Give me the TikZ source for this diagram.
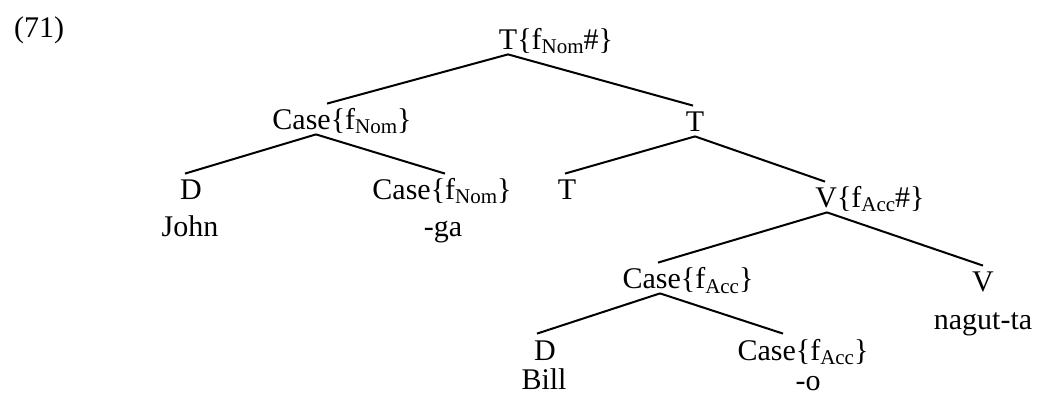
\documentclass[tikz,border=0pt]{standalone}
\usepackage{fontspec}
\setmainfont{Liberation Serif}
\usepackage{tikz}
\newcommand{\feat}[1]{f\raisebox{-2pt}{\fontsize{10.5}{12}\selectfont #1}}

\begin{document}
\begin{tikzpicture}[x=0.5pt, y=-0.5pt, font=\fontsize{15}{18}\selectfont,
  lab/.style={anchor=base, inner sep=2pt, text height=11pt, text depth=0pt},
  branch/.style={line width=1pt}]
  \useasboundingbox (0,0) rectangle (1037,400);

  % Example number
  \node[lab] (num) at (39,38) {(71)};

  % Labels, top to bottom
  \node[lab] (Troot) at (556,50) {T\{\feat{Nom}\#\}};
  \node[lab] (CaseN) at (342,130) {Case\{\feat{Nom}\}};
  \node[lab] (Tbar) at (695,132) {T};
  \node[lab] (Djohn) at (191,200) {D};
  \node[lab] (john) at (190,237) {John};
  \node[lab] (CaseNh) at (442,200) {Case\{\feat{Nom}\}};
  \node[lab] (ga) at (443,237) {-ga};
  \node[lab] (Thead) at (567,200) {T};
  \node[lab] (Vbar) at (870,208) {V\{\feat{Acc}\#\}};
  \node[lab] (CaseA) at (688,289) {Case\{\feat{Acc}\}};
  \node[lab] (Vhead) at (983,292) {V};
  \node[lab] (nagut) at (983,329) {nagut-ta};
  \node[lab] (Dbill) at (545,360) {D};
  \node[lab] (bill) at (544,389) {Bill};
  \node[lab] (CaseAh) at (803,360) {Case\{\feat{Acc}\}};
  \node[lab] (o) at (808,390) {-o};

  % Branches
  \draw[branch] ([xshift=-24pt]Troot.south) -- ([xshift=-7.5pt]CaseN.north);
  \draw[branch] ([xshift=-24pt]Troot.south) -- ([xshift=-1pt]Tbar.north);
  \draw[branch] ([xshift=-13pt]CaseN.south) -- ([xshift=-3pt]Djohn.north);
  \draw[branch] ([xshift=-13pt]CaseN.south) -- ([xshift=1.5pt]CaseNh.north);
  \draw[branch] (Tbar.south) -- ([xshift=-1pt]Thead.north);
  \draw[branch] (Tbar.south) -- ([xshift=-22.5pt]Vbar.north);
  \draw[branch] ([xshift=-21.5pt]Vbar.south) -- ([xshift=-15pt]CaseA.north);
  \draw[branch] ([xshift=-21.5pt]Vbar.south) -- (Vhead.north);
  \draw[branch] ([xshift=-14pt]CaseA.south) -- ([xshift=-4pt]Dbill.north);
  \draw[branch] ([xshift=-14pt]CaseA.south) -- ([xshift=-10pt]CaseAh.north);
\end{tikzpicture}
\end{document}
